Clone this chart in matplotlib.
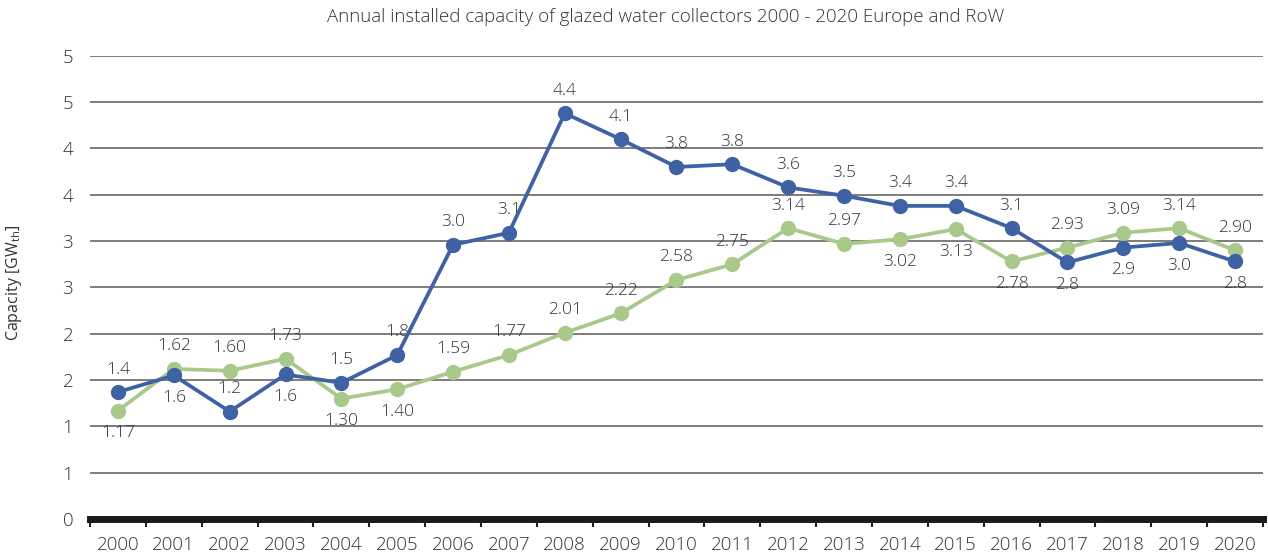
import numpy as np
import matplotlib.pyplot as plt
from matplotlib.ticker import FuncFormatter

years = [str(y) for y in range(2000, 2021)]
europe = [1.37, 1.55, 1.16, 1.56, 1.47, 1.77, 2.96, 3.09, 4.38, 4.10, 3.80, 3.83, 3.58, 3.49, 3.38, 3.38, 3.14, 2.77, 2.93, 2.98, 2.78]
row = [1.17, 1.62, 1.60, 1.73, 1.30, 1.40, 1.59, 1.77, 2.01, 2.22, 2.58, 2.75, 3.14, 2.97, 3.02, 3.13, 2.78, 2.93, 3.09, 3.14, 2.90]
europe_labels = ['1.4', '1.6', '1.2', '1.6', '1.5', '1.8', '3.0', '3.1', '4.4', '4.1', '3.8', '3.8', '3.6', '3.5',
                 '3.4', '3.4', '3.1', '2.8', '2.9', '3.0', '2.8']
row_labels = ['1.17', '1.62', '1.60', '1.73', '1.30', '1.40', '1.59', '1.77', '2.01', '2.22', '2.58', '2.75', '3.14',
              '2.97', '3.02', '3.13', '2.78', '2.93', '3.09', '3.14', '2.90']

# where the data labels sit: 1 above, -1 below
europe_pos = [1, -1, 1, -1, 1, 1, 1, 1, 1, 1, 1, 1, 1, 1, 1, 1, 1, -1, -1, -1, -1]
row_pos = [-1, 1, 1, 1, -1, -1, 1, 1, 1, 1, 1, 1, 1, 1, -1, -1, -1, 1, 1, 1, 1]

blue = '#3f62a5'
green = '#a9c98b'
txt = '#333333'

plt.rcParams['font.family'] = ['Open Sans', 'DejaVu Sans']
plt.rcParams['font.weight'] = 'light'

fig = plt.figure(figsize=(12.68, 5.53), dpi=100)
ax = fig.add_axes([0.071, 0.0615, 0.925, 0.8375])

x = np.arange(len(years))
ax.plot(x, europe, color=blue, lw=2.7, marker='o', ms=10, zorder=4)
ax.plot(x, row, color=green, lw=2.7, marker='o', ms=10, zorder=3)

for xi, v, s, p in zip(x, europe, europe_labels, europe_pos):
    ax.annotate(s, (xi, v), xytext=(0, 10.5 * p), textcoords='offset points', ha='center',
                va='bottom' if p > 0 else 'top', fontsize=12.5, color=txt)
for xi, v, s, p in zip(x, row, row_labels, row_pos):
    ax.annotate(s, (xi, v), xytext=(0, 10.5 * p), textcoords='offset points', ha='center',
                va='bottom' if p > 0 else 'top', fontsize=12.5, color=txt)

ax.set_xlim(-0.5, len(years) - 0.5)
ax.set_ylim(0, 5)
ax.set_yticks(np.arange(0, 5.01, 0.5))
# Excel style rounding of the half steps
ax.yaxis.set_major_formatter(FuncFormatter(lambda v, _: str(int(np.floor(v + 0.5)))))
ax.grid(axis='y', color='#5a5a5a', lw=1.1)
ax.set_axisbelow(True)

ax.set_xticks(x)
ax.set_xticklabels(years)
ax.set_xticks(np.arange(-0.5, len(years)), minor=True)
ax.tick_params(axis='x', which='major', length=0, pad=12, labelsize=13.5, labelcolor=txt)
ax.tick_params(axis='x', which='minor', length=6, width=1.5, color='#222222')
ax.tick_params(axis='y', length=0, pad=12, labelsize=13.5, labelcolor=txt)

for sp in ['left', 'right', 'top']:
    ax.spines[sp].set_visible(False)
ax.spines['bottom'].set_linewidth(5)
ax.spines['bottom'].set_color('#1a1a1a')

ax.set_ylabel('Capacity [GW$_{\\mathregular{th}}$]', fontsize=11.5, color=txt)
ax.yaxis.set_label_coords(-0.056, 0.51)
fig.text(0.525, 0.97, 'Annual installed capacity of glazed water collectors 2000 - 2020 Europe and RoW',
         ha='center', va='center', fontsize=13.5, color=txt)

fig.savefig('out.png', dpi=100)
